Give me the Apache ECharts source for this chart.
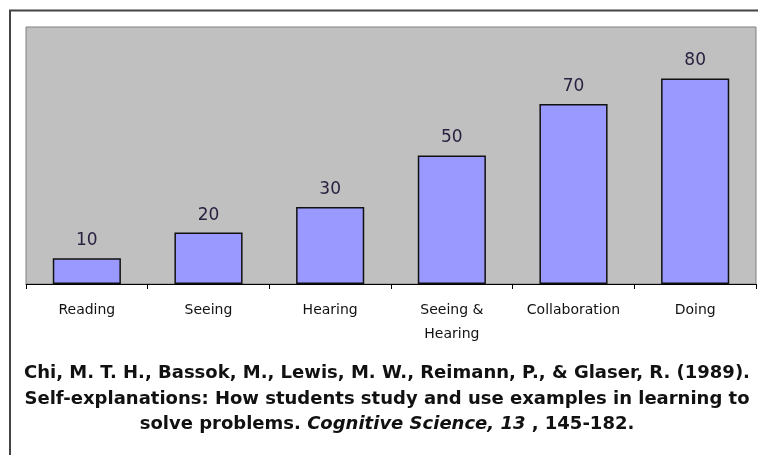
<!DOCTYPE html>
<html><head><meta charset="utf-8">
<script src="https://cdn.jsdelivr.net/npm/echarts@6/dist/echarts.min.js"></script>
<style>html,body{margin:0;padding:0;background:#fff}#c{width:758px;height:455px}</style>
</head><body><div id="c"></div>
<script>
const categories = ['Reading', 'Seeing', 'Hearing', 'Seeing &\nHearing', 'Collaboration', 'Doing'];
const values = [10, 20, 30, 50, 70, 80];
const captionLine1 = 'Chi, M. T. H., Bassok, M., Lewis, M. W., Reimann, P., & Glaser, R. (1989).';
const captionLine2 = 'Self-explanations: How students study and use examples in learning to';
const captionLine3a = 'solve problems. ';
const captionLine3b = 'Cognitive Science, 13';
const captionLine3c = ' , 145-182.';

const FONT = '"DejaVu Sans", Arial, sans-serif';
const chart = echarts.init(document.getElementById('c'), null, {renderer: 'canvas'});
chart.setOption({
  animation: false,
  backgroundColor: '#fff',
  grid: {left: 26, top: 27, right: 2, bottom: 171, show: true, backgroundColor: '#C0C0C0', borderColor: '#808080', borderWidth: 1},
  xAxis: {
    type: 'category', data: categories,
    axisLine: {lineStyle: {color: '#000', width: 1}},
    axisTick: {show: true, length: 5, lineStyle: {color: '#000'}},
    axisLabel: {color: '#111', fontFamily: FONT, fontSize: 14, margin: 14, lineHeight: 24}
  },
  yAxis: {type: 'value', min: 0, max: 100, show: false, splitLine: {show: false}},
  series: [{
    type: 'bar', data: values, barWidth: '56%',
    itemStyle: {color: '#9999FF', borderColor: '#111', borderWidth: 1.5},
    label: {show: true, position: 'top', distance: 9, color: '#2a2040', fontFamily: FONT, fontSize: 17}
  }],
  title: {
    left: 382, textAlign: 'center', top: 356,
    text: '{b|' + captionLine1 + '}\n{b|' + captionLine2 + '}\n{b|' + captionLine3a + '}{i|' + captionLine3b + '}{b|' + captionLine3c + '}',
    textStyle: {
      align: 'center',
      rich: {
        b: {fontFamily: FONT, fontWeight: 'bold', fontSize: 18, color: '#111', lineHeight: 25.5},
        i: {fontFamily: FONT, fontWeight: 'bold', fontStyle: 'italic', fontSize: 18, color: '#111', lineHeight: 25.5}
      }
    }
  },
  graphic: [{
    type: 'rect', shape: {x: 10, y: 10.5, width: 800, height: 600},
    style: {fill: null, stroke: '#444', lineWidth: 2}, silent: true, z: 100
  }]
});
</script></body></html>
